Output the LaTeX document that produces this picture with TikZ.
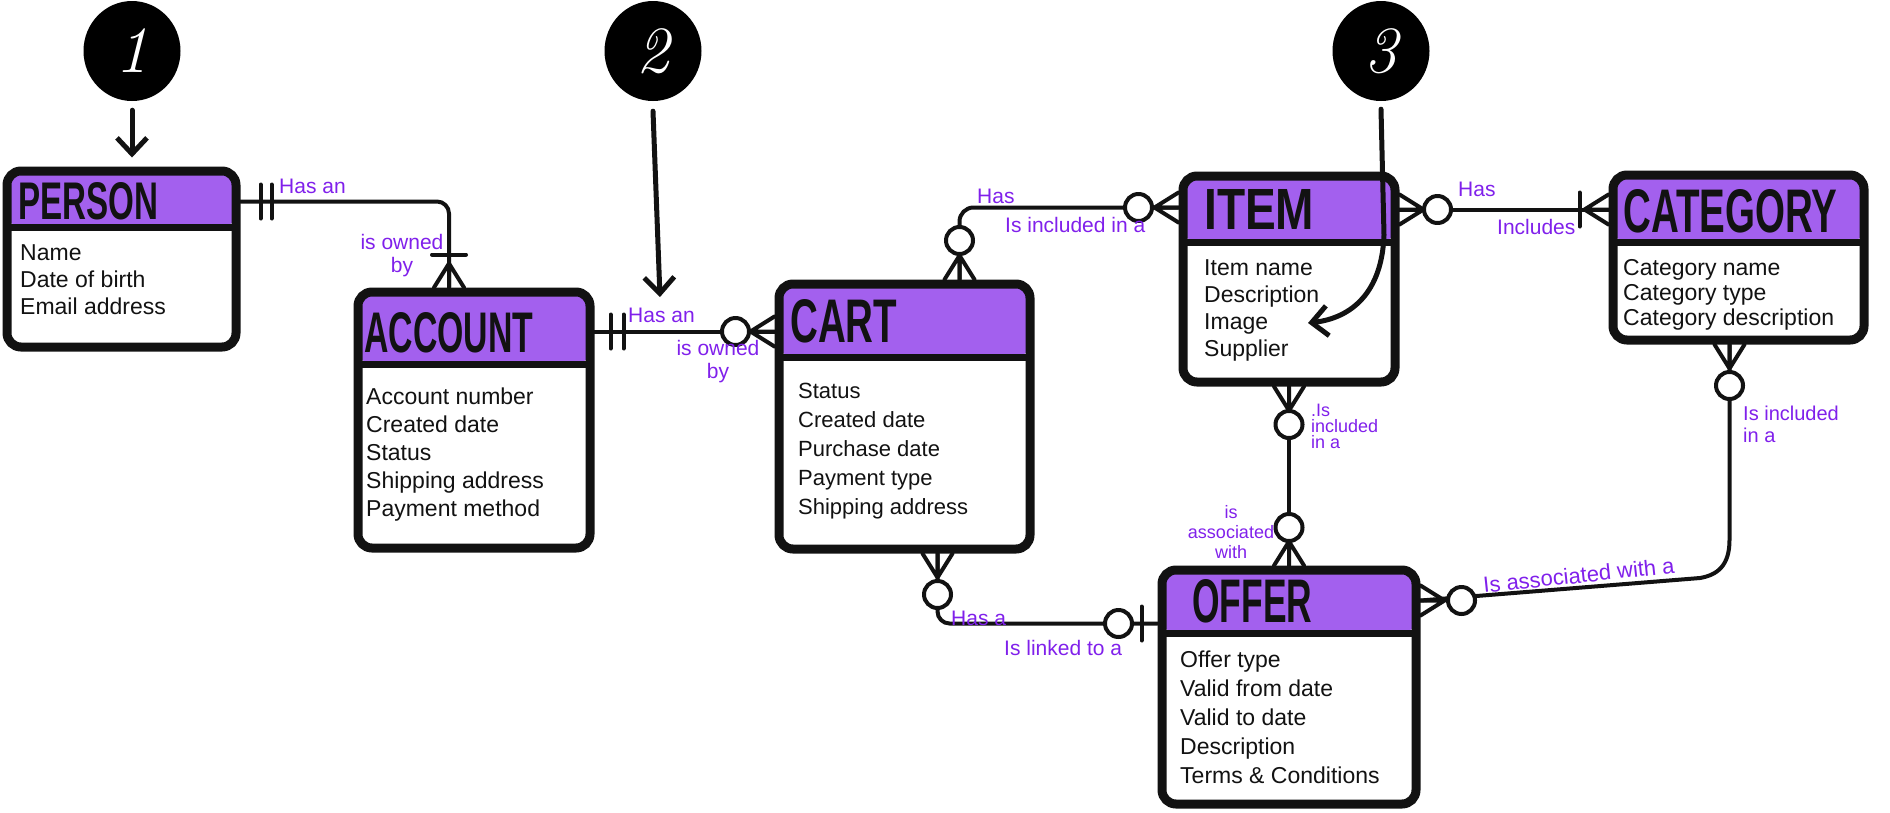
\documentclass[tikz,border=0pt]{standalone}
\usepackage{fontspec}
\usepackage{graphicx}
\newfontfamily\hand{Liberation Sans}
\usetikzlibrary{arrows.meta,calc,shapes.geometric}
\definecolor{headpurple}{RGB}{163,96,238}
\definecolor{labpurple}{RGB}{128,32,235}
\definecolor{ink}{RGB}{18,18,18}
\tikzset{
  entity/.style={rectangle, draw=ink, line width=9pt, rounded corners=14pt, fill=white, inner sep=0pt},
  hdr/.style={path picture={
     \fill[headpurple] ([yshift=6pt]path picture bounding box.north west) rectangle ([yshift=-#1]path picture bounding box.north east);
     \draw[ink, line width=7pt] ([xshift=-6pt,yshift=-#1]path picture bounding box.north west) -- ([xshift=6pt,yshift=-#1]path picture bounding box.north east);}},
  etitle/.style={anchor=south west, inner sep=0pt, text=ink, font=\hand\bfseries},
  attrs/.style={anchor=north west, inner sep=0pt, align=left, text=ink, font={\hand\fontsize{23}{#1}\selectfont}},
  conn/.style={draw=ink, line width=4pt, line cap=round, line join=round},
  lab/.style={text=labpurple, inner sep=0pt, font={\hand\fontsize{21}{23}\selectfont}},
  smalllab/.style={text=labpurple, inner sep=0pt, font={\hand\fontsize{18}{#1}\selectfont}},
  numcirc/.style={ellipse, fill=black, minimum width=97pt, minimum height=100pt, inner sep=0pt, text=white, font={\fontsize{66}{66}\selectfont\itshape}},
  pointer/.style={draw=ink, line width=5pt, line cap=round, -{Straight Barb[length=16pt,width=30pt]}},
  crow/.pic={\draw[conn] (0,-15) -- (24,0) -- (0,15) (0,0) -- (24,0);},
  ring/.pic={\draw[conn, fill=white] (#1,0) circle (13.5);},
  onebar/.pic={\draw[conn] (#1,-17) -- (#1,17);}
}
\begin{document}
\begin{tikzpicture}[x=1pt,y=1pt]
\useasboundingbox (0,0) rectangle (1890,-812);

% ---------- entities
\node[entity, hdr=56pt, minimum width=229pt, minimum height=176pt] (person) at (121.5,-259) {};
\node[entity, hdr=72pt, minimum width=232pt, minimum height=256pt] (account) at (474,-420) {};
\node[entity, hdr=73pt, minimum width=251pt, minimum height=265pt] (cart) at (904.5,-416.5) {};
\node[entity, hdr=66pt, minimum width=212pt, minimum height=206pt] (item) at (1289,-279) {};
\node[entity, hdr=67pt, minimum width=251pt, minimum height=165pt] (category) at (1738.5,-257.5) {};
\node[entity, hdr=63pt, minimum width=254pt, minimum height=234pt] (offer) at (1289,-687) {};

% ---------- titles
\node[etitle] (tperson) at (18,-220) {\resizebox{140pt}{37pt}{PERSON}};
\node[etitle] (taccount) at (364,-353) {\resizebox{169pt}{40pt}{ACCOUNT}};
\node[etitle] (tcart) at (790,-343) {\resizebox{107pt}{43pt}{CART}};
\node[etitle] (titem) at (1204,-230) {\resizebox{110pt}{40pt}{ITEM}};
\node[etitle] (tcategory) at (1623,-233) {\resizebox{214pt}{43pt}{CATEGORY}};
\node[etitle] (toffer) at (1192,-623) {\resizebox{120pt}{43pt}{OFFER}};

% ---------- attributes
\node[attrs=27] (aperson) at (20,-244) {Name\\Date of birth\\Email address};
\node[attrs=28] (aaccount) at (366,-388) {Account number\\Created date\\Status\\Shipping address\\Payment method};
\node[attrs=29, font={\hand\fontsize{22}{29}\selectfont}] (acart) at (798,-383) {Status\\Created date\\Purchase date\\Payment type\\Shipping address};
\node[attrs=27] (aitem) at (1204,-259) {Item name\\Description\\Image\\Supplier};
\node[attrs=25] (acategory) at (1623,-259) {Category name\\Category type\\Category description};
\node[attrs=29] (aoffer) at (1180,-651) {Offer type\\Valid from date\\Valid to date\\Description\\Terms \& Conditions};

% ---------- connector lines
\draw[conn, rounded corners=12pt] ([yshift=-35pt]person.north east) -| ([xshift=-25pt]account.north);
\draw[conn] ([yshift=-44pt]account.north east) -- ([yshift=-44pt]account.north east -| cart.west);
\draw[conn, rounded corners=14pt] ([xshift=55pt]cart.north) |- ([yshift=-36pt]item.north west);
\draw[conn] ([yshift=-38pt]item.north east) -- ([yshift=-38pt]item.north east -| category.west);
\draw[conn] (item.south) -- (offer.north);
\coordinate (c6a) at (1729.5,-540);
\coordinate (c6b) at (1700,-578);
\draw[conn] ([xshift=-9pt]category.south) -- (c6a) .. controls (1729.5,-566) and (1717,-575) .. (c6b) -- ([yshift=-35pt]offer.north east);
\draw[conn, rounded corners=12pt] ([xshift=33pt]cart.south) |- ([yshift=-58pt]offer.north west);

% ---------- connector ends
% person -> account
\pic at ([yshift=-35pt]person.north east) {onebar=20};
\pic at ([yshift=-35pt]person.north east) {onebar=31};
\pic[rotate=90] at ([xshift=-25pt]account.north) {crow};
\pic[rotate=90] at ([xshift=-25pt]account.north) {onebar=33};
% account -> cart
\pic at ([yshift=-44pt]account.north east) {onebar=16};
\pic at ([yshift=-44pt]account.north east) {onebar=29};
\pic[rotate=180] at ([yshift=-44pt]account.north east -| cart.west) {crow};
\pic[rotate=180] at ([yshift=-44pt]account.north east -| cart.west) {ring=39};
% cart -> item
\pic[rotate=90] at ([xshift=55pt]cart.north) {crow};
\pic[rotate=90] at ([xshift=55pt]cart.north) {ring=39};
\pic[rotate=180] at ([yshift=-36pt]item.north west) {crow};
\pic[rotate=180] at ([yshift=-36pt]item.north west) {ring=40};
% item -> category
\pic at ([yshift=-38pt]item.north east) {crow};
\pic at ([yshift=-38pt]item.north east) {ring=38};
\pic[rotate=180] at ([yshift=-38pt]item.north east -| category.west) {crow};
\pic[rotate=180] at ([yshift=-38pt]item.north east -| category.west) {onebar=29};
% item -> offer
\pic[rotate=-90] at (item.south) {crow};
\pic[rotate=-90] at (item.south) {ring=38};
\pic[rotate=90] at (offer.north) {crow};
\pic[rotate=90] at (offer.north) {ring=38};
% category -> offer
\pic[rotate=-90] at ([xshift=-9pt]category.south) {crow};
\pic[rotate=-90] at ([xshift=-9pt]category.south) {ring=41};
\pic at ([yshift=-35pt]offer.north east) {crow};
\pic at ([yshift=-35pt]offer.north east) {ring=41};
% cart -> offer
\pic[rotate=-90] at ([xshift=33pt]cart.south) {crow};
\pic[rotate=-90] at ([xshift=33pt]cart.south) {ring=41};
\pic[rotate=180] at ([yshift=-58pt]offer.north west) {onebar=16};
\pic[rotate=180] at ([yshift=-58pt]offer.north west) {ring=39};

% ---------- relationship labels
\node[lab, anchor=west] (l1a) at (279,-186) {Has an};
\node[lab, align=center] (l1b) at (402,-256) {is owned\\by};
\node[lab, anchor=west] (l2a) at (628,-315) {Has an};
\node[lab, align=center] (l2b) at (718,-362) {is owned\\by};
\node[lab, anchor=west] (l3a) at (977,-196) {Has};
\node[lab, anchor=west] (l3b) at (1005,-225) {Is included in a};
\node[lab, anchor=west] (l4a) at (1458,-189) {Has};
\node[lab, anchor=west] (l4b) at (1497,-227) {Includes};
\node[smalllab=16, anchor=north west, align=left] (l5a) at (1311,-404) {.Is\\included\\in a};
\node[smalllab=20, align=center] (l5b) at (1231,-532) {is\\associated\\with};
\node[lab, anchor=north west, align=left, font={\hand\fontsize{20}{22}\selectfont}] (l6a) at (1743,-406) {Is included\\in a};
\node[lab, anchor=base west, rotate=6, font={\hand\fontsize{22}{24}\selectfont}] (l6b) at (1484,-593) {Is associated with a};
\node[lab, anchor=west] (l7a) at (951,-618) {Has a};
\node[lab, anchor=west] (l7b) at (1004,-648) {Is linked to a};

% ---------- numbered callouts
\node[numcirc] (n1) at (132,-51) {1};
\node[numcirc] (n2) at (653,-51) {2};
\node[numcirc] (n3) at (1381,-51) {3};
\coordinate (a2tip) at (660,-297);
\coordinate (a3tip) at (1308,-323);
\draw[pointer] ([yshift=-9pt]n1.south) -- ([yshift=9pt]n1.south |- person.north);
\draw[pointer] ([yshift=-10pt]n2.south) -- (a2tip);
\draw[pointer] ([yshift=-8pt]n3.south) -- (1384,-235) .. controls (1382,-292) and (1352,-318) .. (a3tip);
\end{tikzpicture}
\end{document}
